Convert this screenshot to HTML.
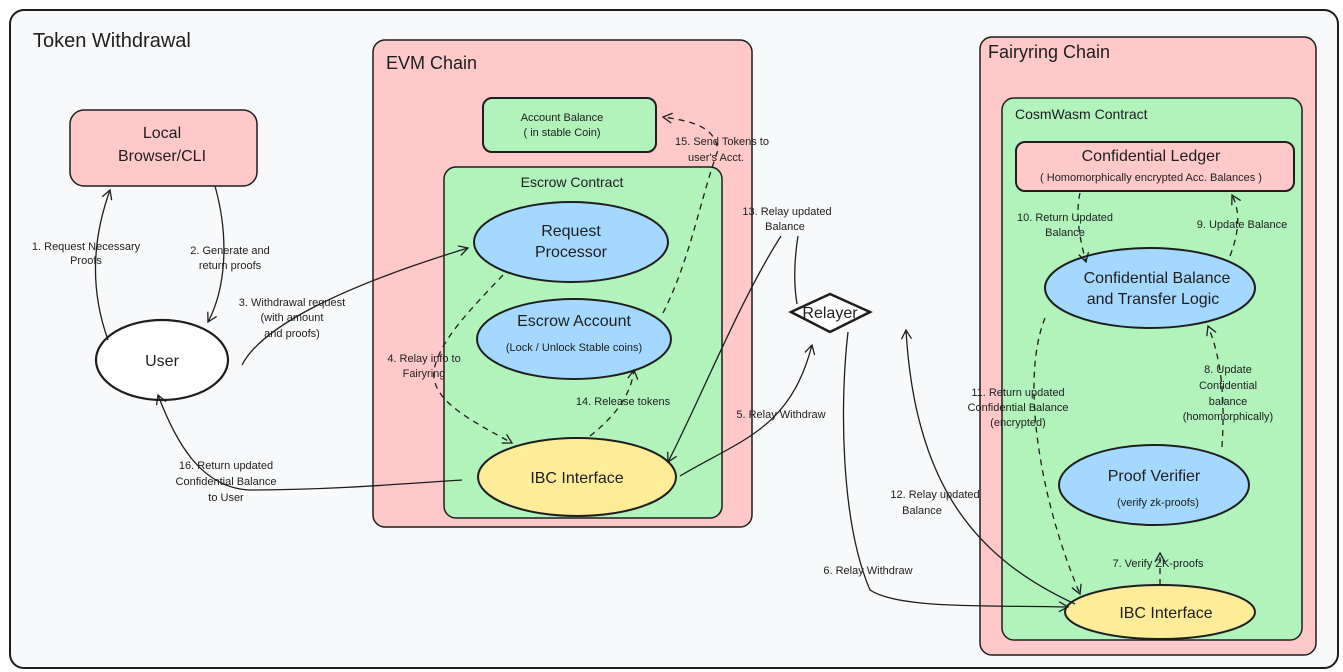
<!DOCTYPE html>
<html><head><meta charset="utf-8"><style>
html,body{margin:0;padding:0;background:#fff;}
svg{display:block;font-family:"Liberation Sans",sans-serif;}
.l{font-size:11px;fill:#1e1e1e;text-anchor:middle;}
.n{font-size:16px;fill:#1e1e1e;text-anchor:middle;}
.s{stroke:#1e1e1e;stroke-width:1.3;fill:none;}
.d{stroke:#1e1e1e;stroke-width:1.3;fill:none;stroke-dasharray:6 5;}
</style></head><body>
<svg width="1343" height="672" viewBox="0 0 1343 672">
<defs><marker id="a" markerWidth="12" markerHeight="12" refX="10" refY="6" orient="auto" markerUnits="userSpaceOnUse"><path d="M1,1 L10,6 L1,11" fill="none" stroke="#1e1e1e" stroke-width="1.3"/></marker></defs>
<rect width="1343" height="672" fill="#fff"/>
<rect x="10" y="10" width="1328" height="658" rx="14" fill="#f8f9fa" stroke="#1e1e1e" stroke-width="2"/>
<text x="33" y="47" font-size="20" fill="#1e1e1e">Token Withdrawal</text>

<!-- EVM chain -->
<rect x="373" y="40" width="379" height="487" rx="12" fill="#ffc9c9" stroke="#1e1e1e" stroke-width="1.5"/>
<text x="386" y="69" font-size="18" fill="#1e1e1e">EVM Chain</text>
<rect x="483" y="98" width="173" height="54" rx="9" fill="#b2f2bb" stroke="#1e1e1e" stroke-width="2"/>
<text class="l" x="562" y="121">Account Balance</text>
<text class="l" x="562" y="136">( in stable Coin)</text>
<rect x="444" y="167" width="278" height="351" rx="12" fill="#b2f2bb" stroke="#1e1e1e" stroke-width="1.5"/>
<text x="572" y="187" font-size="14" fill="#1e1e1e" text-anchor="middle">Escrow Contract</text>
<ellipse cx="571" cy="242" rx="97" ry="40" fill="#a5d8ff" stroke="#1e1e1e" stroke-width="2"/>
<text class="n" x="571" y="236">Request</text>
<text class="n" x="571" y="257">Processor</text>
<ellipse cx="574" cy="339" rx="97" ry="40" fill="#a5d8ff" stroke="#1e1e1e" stroke-width="2"/>
<text class="n" x="574" y="326" font-size="15">Escrow Account</text>
<text class="l" x="574" y="351">(Lock / Unlock Stable coins)</text>
<ellipse cx="577" cy="477" rx="99" ry="39" fill="#ffec99" stroke="#1e1e1e" stroke-width="2"/>
<text class="n" x="577" y="483">IBC Interface</text>

<!-- Fairyring -->
<rect x="980" y="37" width="336" height="618" rx="12" fill="#ffc9c9" stroke="#1e1e1e" stroke-width="1.5"/>
<text x="988" y="58" font-size="18" fill="#1e1e1e">Fairyring Chain</text>
<rect x="1002" y="98" width="300" height="542" rx="12" fill="#b2f2bb" stroke="#1e1e1e" stroke-width="1.5"/>
<text x="1015" y="119" font-size="14" fill="#1e1e1e">CosmWasm Contract</text>
<rect x="1016" y="142" width="278" height="49" rx="9" fill="#ffc9c9" stroke="#1e1e1e" stroke-width="2"/>
<text class="n" x="1151" y="161" font-size="15">Confidential Ledger</text>
<text class="l" x="1151" y="181">( Homomorphically encrypted Acc. Balances )</text>
<ellipse cx="1150" cy="288" rx="105" ry="40" fill="#a5d8ff" stroke="#1e1e1e" stroke-width="2"/>
<text class="n" x="1157" y="283">Confidential Balance</text>
<text class="n" x="1153" y="304">and Transfer Logic</text>
<ellipse cx="1154" cy="485" rx="95" ry="40" fill="#a5d8ff" stroke="#1e1e1e" stroke-width="2"/>
<text class="n" x="1154" y="481">Proof Verifier</text>
<text class="l" x="1158" y="506">(verify zk-proofs)</text>
<ellipse cx="1160" cy="612" rx="95" ry="27" fill="#ffec99" stroke="#1e1e1e" stroke-width="2"/>
<text class="n" x="1166" y="618">IBC Interface</text>

<!-- Left -->
<rect x="70" y="110" width="187" height="76" rx="14" fill="#ffc9c9" stroke="#1e1e1e" stroke-width="1.5"/>
<text class="n" x="162" y="138">Local</text>
<text class="n" x="162" y="161">Browser/CLI</text>
<ellipse cx="162" cy="360" rx="66" ry="40" fill="#fff" stroke="#1e1e1e" stroke-width="2.2"/>
<text class="n" x="162" y="366">User</text>

<!-- Relayer -->
<path d="M791,312 L830,294 L870,312 L830,332 Z" fill="#fff" stroke="#1e1e1e" stroke-width="2.5"/>
<text class="n" x="830" y="318" font-size="15">Relayer</text>

<!-- connectors -->
<path class="s" d="M108,340 C90,290 92,240 110,190" marker-end="url(#a)"/>
<text class="l" x="86" y="250">1. Request Necessary</text><text class="l" x="86" y="264">Proofs</text>
<path class="s" d="M215,186 C230,240 225,290 208,322" marker-end="url(#a)"/>
<text class="l" x="230" y="254">2. Generate and</text><text class="l" x="230" y="269">return proofs</text>
<path class="s" d="M242,365 C260,330 330,290 468,248" marker-end="url(#a)"/>
<text class="l" x="292" y="306">3. Withdrawal request</text><text class="l" x="292" y="321">(with amount</text><text class="l" x="292" y="337">and proofs)</text>
<path class="d" d="M503,275 C470,310 440,340 434,370 C430,400 470,420 512,443" marker-end="url(#a)"/>
<text class="l" x="424" y="362">4. Relay info to</text><text class="l" x="424" y="377">Fairyring</text>
<path class="s" d="M680,476 C740,440 790,430 812,345" marker-end="url(#a)"/>
<text class="l" x="781" y="418">5. Relay Withdraw</text>
<path class="s" d="M848,332 C840,400 840,520 870,590 C900,610 1000,605 1068,607" marker-end="url(#a)" stroke-width="1.8"/>
<text class="l" x="868" y="574">6. Relay Withdraw</text>
<path class="d" d="M1160,585 L1160,553" marker-end="url(#a)"/>
<text class="l" x="1158" y="567">7. Verify ZK-proofs</text>
<path class="d" d="M1222,447 C1225,400 1222,360 1208,326" marker-end="url(#a)"/>
<text class="l" x="1228" y="373">8. Update</text><text class="l" x="1228" y="389">Confidential</text><text class="l" x="1228" y="405">balance</text><text class="l" x="1228" y="420">(homomorphically)</text>
<path class="d" d="M1230,256 C1240,230 1240,210 1232,195" marker-end="url(#a)"/>
<text class="l" x="1242" y="228">9. Update Balance</text>
<path class="d" d="M1080,193 C1075,215 1080,240 1086,262" marker-end="url(#a)"/>
<text class="l" x="1065" y="221">10. Return Updated</text><text class="l" x="1065" y="236">Balance</text>
<path class="d" d="M1045,318 C1020,380 1040,500 1080,594" marker-end="url(#a)"/>
<text class="l" x="1018" y="396">11. Return updated</text><text class="l" x="1018" y="411">Confidential Balance</text><text class="l" x="1018" y="426">(encrypted)</text>
<path class="s" d="M1075,604 C980,560 915,490 906,330" marker-end="url(#a)" stroke-width="1.8"/>
<text class="l" x="935" y="498">12. Relay updated</text><text class="l" x="922" y="514">Balance</text>
<path class="s" d="M797,304 C793,280 795,255 798,236"/>
<path class="s" d="M781,236 C740,300 700,400 668,462" marker-end="url(#a)"/>
<text class="l" x="787" y="215">13. Relay updated</text><text class="l" x="785" y="230">Balance</text>
<path class="d" d="M590,436 C610,420 630,400 634,370" marker-end="url(#a)"/>
<text class="l" x="623" y="405">14. Release tokens</text>
<path class="d" d="M663,313 C690,260 700,200 718,150 C715,130 700,122 663,117" marker-end="url(#a)"/>
<text class="l" x="722" y="145">15. Send Tokens to</text><text class="l" x="716" y="161">user's Acct.</text>
<path class="s" d="M462,480 C400,484 330,490 250,490 C200,488 175,440 158,395" marker-end="url(#a)" stroke-width="1.8"/>
<text class="l" x="226" y="469">16. Return updated</text><text class="l" x="226" y="485">Confidential Balance</text><text class="l" x="226" y="501">to User</text>
</svg>
</body></html>
